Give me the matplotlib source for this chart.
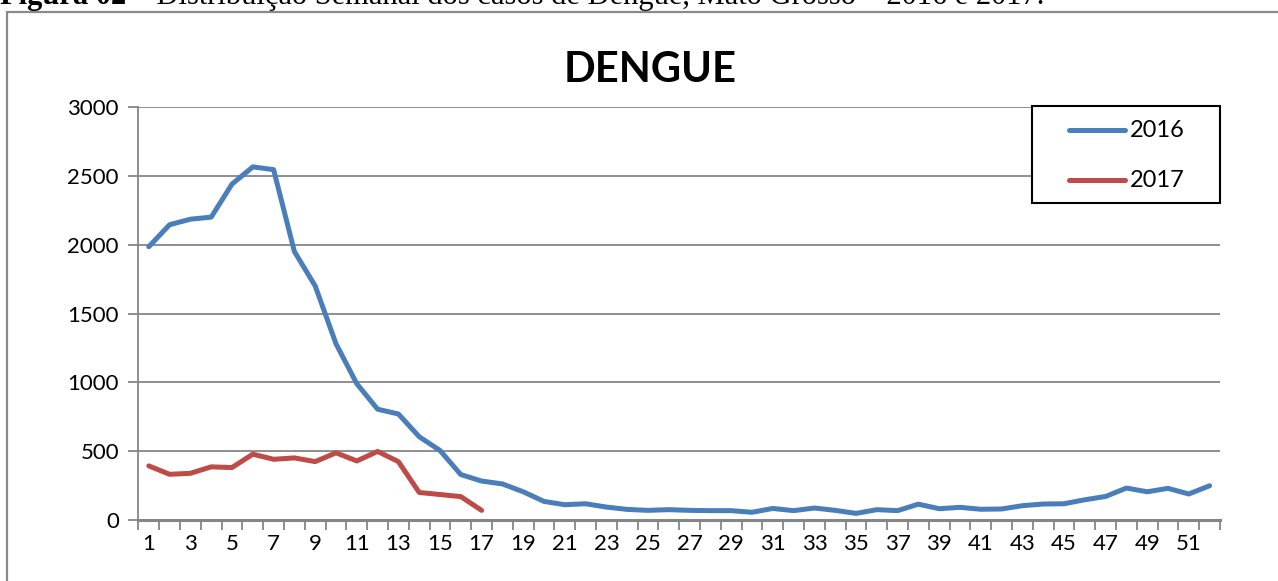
import numpy as np
import matplotlib.pyplot as plt
from matplotlib.patches import Rectangle
from matplotlib.ticker import FixedLocator, NullFormatter

weeks = list(range(1, 53))
cases_2016 = [1985, 2145, 2185, 2200, 2440, 2565, 2545, 1950, 1700, 1280,
              990, 805, 770, 605, 505, 330, 283, 262, 205, 135,
              111, 118, 94, 77, 70, 75, 70, 68, 68, 56,
              84, 68, 87, 70, 48, 75, 68, 115, 82, 92,
              78, 80, 104, 116, 118, 147, 171, 232, 205, 230,
              189, 249]
weeks_2017 = list(range(1, 18))
cases_2017 = [393, 332, 339, 386, 381, 478, 441, 451, 424, 488,
              429, 498, 424, 200, 185, 170, 70]
year_labels = ["2016", "2017"]
yticks = [0, 500, 1000, 1500, 2000, 2500, 3000]

W, H = 1278, 581
fig = plt.figure(figsize=(W / 100, H / 100), dpi=100)

# outer chart frame (cut by the page edge)
fig.patches.append(Rectangle((7 / W, -0.2), 1.2, 1 - 12 / H + 0.2,
                             transform=fig.transFigure, fill=False,
                             edgecolor="#8a8a8a", linewidth=1.6))

ax = fig.add_axes([138.4 / W, 1 - 520 / H, (1220 - 138.4) / W, (520 - 107) / H])

# caption, partly cut off at the top of the page
t1 = fig.text(0.0, 1 - 11 / H, "Figura 02", family="Liberation Serif",
              fontweight="bold", fontsize=22, va="bottom", ha="left")
ax.annotate(" \u2013 Distribuição Semanal dos casos de Dengue, Mato Grosso \u2013 2016 e 2017.",
            xy=(1, 0), xycoords=t1, va="bottom", ha="left",
            family="Liberation Serif", fontsize=22, annotation_clip=False)

l16, = ax.plot(weeks, cases_2016, color="#4a7ebb", lw=3.6,
               solid_capstyle="round", solid_joinstyle="round")
l17, = ax.plot(weeks_2017, cases_2017, color="#be4b48", lw=3.6,
               solid_capstyle="round", solid_joinstyle="round")

ax.set_xlim(0.5, 52.5)
ax.set_ylim(0, 3000)
ax.set_yticks(yticks)
ax.set_yticklabels([str(v) for v in yticks])
ax.grid(axis="y", color="#868686", lw=1.3)
ax.set_axisbelow(True)

ax.xaxis.set_major_locator(FixedLocator(list(range(1, 53, 2))))
ax.set_xticklabels([str(w) for w in range(1, 53, 2)])
ax.xaxis.set_minor_locator(FixedLocator([w + 0.5 for w in range(0, 53)]))
ax.xaxis.set_minor_formatter(NullFormatter())
ax.tick_params(axis="x", which="major", length=0, pad=10)
ax.tick_params(axis="x", which="minor", length=7, width=1.3, color="#868686")
ax.tick_params(axis="y", length=7, width=1.3, color="#868686", pad=7)
for lab in ax.get_xticklabels() + ax.get_yticklabels():
    lab.set_family("Lato")
    lab.set_fontsize(16)

for s in ("top", "right"):
    ax.spines[s].set_visible(False)
ax.spines["left"].set_color("#868686")
ax.spines["left"].set_linewidth(1.3)
ax.spines["bottom"].set_color("#868686")
ax.spines["bottom"].set_linewidth(2.2)

ax.set_title("DENGUE", family="Lato", fontweight="bold", fontsize=30, pad=18, x=0.473)

# legend box, drawn by hand to get Excel's padding
ax.add_patch(Rectangle((0.8262, 0.7676), 1.0 - 0.8262, 1.0024 - 0.7676,
                       transform=ax.transAxes, facecolor="white",
                       edgecolor="black", linewidth=1.5, clip_on=False, zorder=5))
for line, lab, ly in [(l16, year_labels[0], 0.9443), (l17, year_labels[1], 0.8232)]:
    ax.plot([0.8604, 0.9122], [ly, ly], transform=ax.transAxes, color=line.get_color(),
            lw=3.6, solid_capstyle="round", clip_on=False, zorder=6)
    ax.text(0.9167, ly, lab, transform=ax.transAxes, va="center", ha="left",
            family="Lato", fontsize=17, zorder=6)

fig.savefig("out.png", dpi=100)
